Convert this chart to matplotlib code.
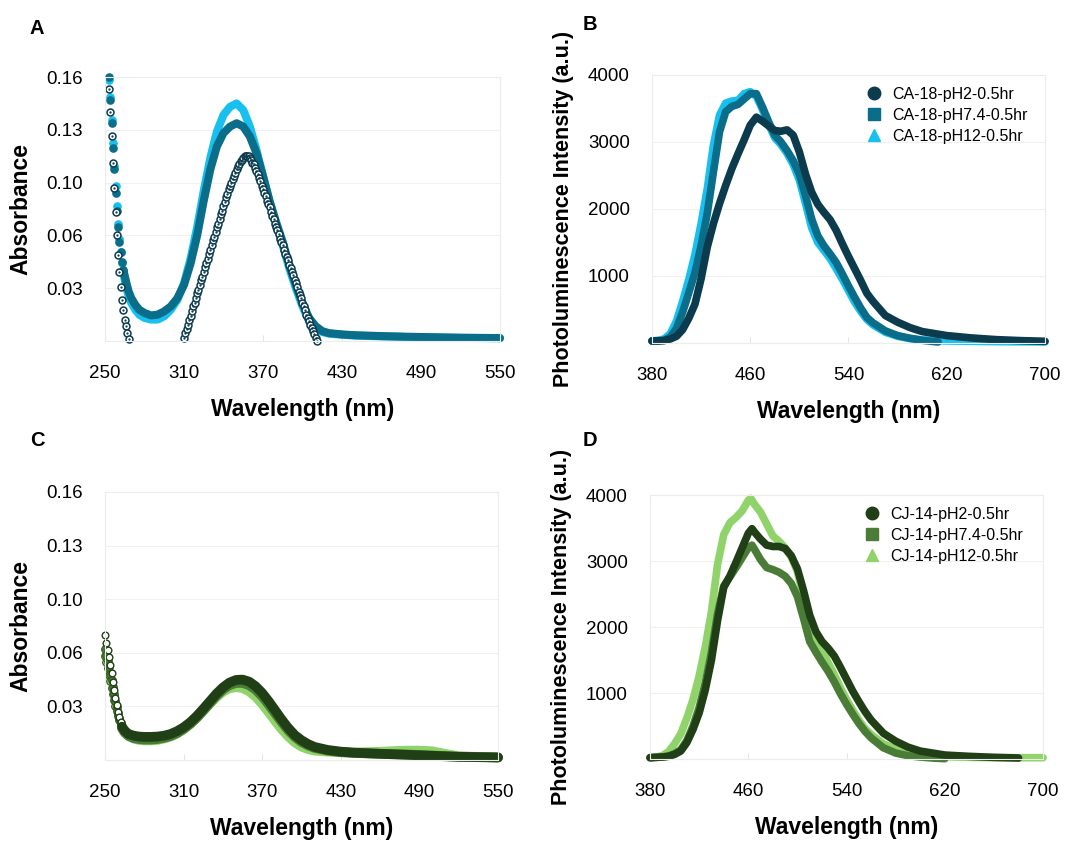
import matplotlib
matplotlib.use("Agg")
import matplotlib.pyplot as plt
from matplotlib.lines import Line2D

plt.rcParams['font.family'] = ['Liberation Sans', 'DejaVu Sans']

# ---------------- data ----------------
# panel A - UV-vis absorbance, CA-18
a_wl_pH2 = [253, 254, 255, 256, 257, 258, 259, 260, 261, 262, 263, 264, 265, 266, 267, 268,
            310, 311, 312, 313, 314, 315, 316, 317, 318, 319, 320, 321, 322, 323, 324, 325,
            326, 327, 328, 329, 330, 331, 332, 333, 334, 335, 336, 337, 338, 339, 340, 341,
            342, 343, 344, 345, 346, 347, 348, 349, 350, 351, 352, 353, 354, 355, 356, 357,
            358, 359, 360, 361, 362, 363, 364, 365, 366, 367, 368, 369, 370, 371, 372, 373,
            374, 375, 376, 377, 378, 379, 380, 381, 382, 383, 384, 385, 386, 387, 388, 389,
            390, 391, 392, 393, 394, 395, 396, 397, 398, 399, 400, 401, 402, 403, 404, 405,
            406, 407, 408, 409, 410, 411]
a_abs_pH2 = [0.153, 0.139, 0.124, 0.108, 0.093, 0.078, 0.064, 0.052, 0.042, 0.033, 0.025, 0.019,
             0.013, 0.009, 0.005, 0.001,
             0.002, 0.005, 0.007, 0.010, 0.013, 0.015, 0.018, 0.021, 0.023, 0.026, 0.029, 0.031,
             0.034, 0.037, 0.039, 0.042, 0.045, 0.047, 0.050, 0.053, 0.055, 0.058, 0.061, 0.063,
             0.066, 0.069, 0.071, 0.074, 0.077, 0.079, 0.082, 0.084, 0.087, 0.089, 0.092, 0.094,
             0.096, 0.098, 0.100, 0.102, 0.104, 0.106, 0.107, 0.109, 0.110, 0.111, 0.112, 0.112,
             0.112, 0.112, 0.111, 0.110, 0.108, 0.107, 0.105, 0.103, 0.101, 0.099, 0.097, 0.094,
             0.092, 0.090, 0.088, 0.085, 0.083, 0.081, 0.078, 0.076, 0.074, 0.071, 0.069, 0.067,
             0.065, 0.062, 0.060, 0.058, 0.055, 0.053, 0.051, 0.049, 0.046, 0.044, 0.042, 0.040,
             0.037, 0.035, 0.033, 0.030, 0.028, 0.026, 0.023, 0.021, 0.019, 0.016, 0.014, 0.012,
             0.010, 0.008, 0.006, 0.004, 0.002, 0.000]
a_wl = [253, 254, 255, 256, 257, 258, 259, 260, 261, 262, 263, 264, 266, 268, 270, 273, 276,
        280, 285, 290, 295, 300, 305, 310, 315, 320, 325, 330, 335, 340, 345, 350, 355, 360,
        365, 370, 375, 380, 385, 390, 395, 400, 405, 410, 415, 420, 430, 440, 460, 480, 500,
        520, 550]
a_abs_pH74 = [0.160, 0.146, 0.132, 0.117, 0.104, 0.090, 0.079, 0.069, 0.060, 0.054, 0.048, 0.043,
              0.036, 0.030, 0.026, 0.022, 0.019, 0.017, 0.0155, 0.016, 0.018, 0.021, 0.026, 0.034,
              0.047, 0.064, 0.085, 0.104, 0.118, 0.126, 0.130, 0.132, 0.130, 0.124, 0.114, 0.100,
              0.085, 0.072, 0.060, 0.046, 0.034, 0.023, 0.014, 0.009, 0.006, 0.0048, 0.004,
              0.0035, 0.003, 0.0026, 0.0023, 0.002, 0.0018]
a_abs_pH12 = [0.158, 0.148, 0.134, 0.120, 0.106, 0.094, 0.082, 0.071, 0.062, 0.054, 0.047, 0.041,
              0.033, 0.027, 0.023, 0.019, 0.016, 0.014, 0.013, 0.013, 0.015, 0.019, 0.025, 0.035,
              0.050, 0.069, 0.091, 0.111, 0.127, 0.137, 0.142, 0.144, 0.140, 0.130, 0.116, 0.100,
              0.084, 0.070, 0.058, 0.044, 0.032, 0.021, 0.012, 0.008, 0.0055, 0.0045, 0.0038,
              0.0033, 0.0028, 0.0024, 0.0021, 0.0019, 0.0017]

# panel C - UV-vis absorbance, CJ-14
c_wl = [250, 251, 252, 253, 254, 255, 256, 257, 258, 259, 260, 261, 262, 263, 265, 268, 272,
        276, 280, 285, 290, 295, 300, 305, 310, 315, 320, 325, 330, 335, 340, 345, 350, 355,
        360, 365, 370, 375, 380, 385, 390, 395, 400, 405, 410, 420, 430, 440, 460, 470, 480,
        490, 500, 510, 520, 550]
c_abs_pH2 = [0.0746, 0.0700, 0.0657, 0.0613, 0.0567, 0.0517, 0.0468, 0.0418, 0.0368, 0.0328,
             0.0289, 0.0259, 0.0229, 0.0199, 0.0175, 0.0155, 0.0145, 0.0140, 0.0138, 0.0138,
             0.0140, 0.0145, 0.0155, 0.0172, 0.0195, 0.0225, 0.0262, 0.0305, 0.0350, 0.0395,
             0.0433, 0.0462, 0.0478, 0.0480, 0.0468, 0.0440, 0.0400, 0.0350, 0.0295, 0.0240,
             0.0190, 0.0148, 0.0118, 0.0095, 0.0078, 0.0060, 0.0050, 0.0044, 0.0037, 0.0034,
             0.0031, 0.0028, 0.0025, 0.0022, 0.0019, 0.0015]
c_abs_pH74 = [0.0660, 0.0625, 0.0590, 0.0555, 0.0515, 0.0475, 0.0435, 0.0395, 0.0355, 0.0315,
              0.0280, 0.0250, 0.0220, 0.0190, 0.0165, 0.0143, 0.0130, 0.0125, 0.0122, 0.0122,
              0.0125, 0.0132, 0.0143, 0.0160, 0.0185, 0.0215, 0.0252, 0.0295, 0.0340, 0.0383,
              0.0420, 0.0447, 0.0460, 0.0460, 0.0447, 0.0420, 0.0380, 0.0330, 0.0277, 0.0225,
              0.0176, 0.0137, 0.0107, 0.0087, 0.0072, 0.0056, 0.0047, 0.0042, 0.0037, 0.0035,
              0.0033, 0.0030, 0.0027, 0.0023, 0.0020, 0.0016]
c_abs_pH12 = [0.0620, 0.0585, 0.0550, 0.0510, 0.0470, 0.0430, 0.0395, 0.0360, 0.0325, 0.0295,
              0.0265, 0.0240, 0.0215, 0.0190, 0.0165, 0.0145, 0.0128, 0.0120, 0.0117, 0.0117,
              0.0120, 0.0128, 0.0140, 0.0158, 0.0183, 0.0215, 0.0252, 0.0293, 0.0335, 0.0375,
              0.0408, 0.0428, 0.0435, 0.0430, 0.0410, 0.0378, 0.0335, 0.0285, 0.0233, 0.0183,
              0.0140, 0.0105, 0.0080, 0.0065, 0.0056, 0.0050, 0.0046, 0.0045, 0.0049, 0.0053,
              0.0056, 0.0056, 0.0052, 0.0036, 0.0022, 0.0015]

# panel B - photoluminescence, CA-18
b_wl_pH2 = [380, 385, 390, 395, 400, 405, 410, 415, 420, 425, 430, 435, 440, 445, 450, 455, 460,
            465, 470, 475, 480, 485, 490, 495, 500, 505, 510, 515, 520, 525, 530, 535, 540, 545,
            550, 555, 560, 570, 580, 590, 600, 620, 640, 660, 680, 700]
b_pl_pH2 = [30, 30, 35, 60, 100, 200, 370, 580, 960, 1430, 1780, 2080, 2350, 2600, 2820, 3030,
            3250, 3370, 3310, 3240, 3170, 3160, 3180, 3100, 2850, 2520, 2250, 2070, 1950, 1840,
            1680, 1480, 1290, 1110, 930, 740, 620, 410, 310, 230, 170, 110, 75, 50, 35, 25]
b_wl_pH74 = [380, 385, 390, 395, 400, 405, 410, 415, 420, 425, 430, 435, 440, 445, 450, 455, 460,
             465, 470, 475, 480, 485, 490, 495, 500, 505, 510, 515, 520, 525, 530, 535, 540, 545,
             550, 555, 560, 570, 580, 590, 600, 610, 613]
b_pl_pH74 = [30, 30, 40, 90, 220, 460, 750, 1050, 1450, 1930, 2550, 3150, 3450, 3530, 3560, 3640,
             3720, 3720, 3520, 3300, 3100, 3000, 2870, 2720, 2520, 2200, 1850, 1600, 1450, 1330,
             1200, 1030, 850, 680, 520, 380, 300, 180, 110, 70, 40, 20, 15]
b_wl_pH12 = [380, 385, 390, 395, 400, 405, 410, 415, 420, 425, 430, 435, 440, 445, 450, 455, 460,
             465, 470, 475, 480, 485, 490, 495, 500, 505, 510, 515, 520, 525, 530, 535, 540, 545,
             550, 555, 560, 570, 580, 590, 600, 620, 640, 660, 680, 700]
b_pl_pH12 = [30, 40, 60, 140, 330, 620, 950, 1320, 1780, 2300, 2950, 3400, 3580, 3610, 3620, 3720,
             3750, 3680, 3480, 3260, 3060, 2960, 2830, 2660, 2430, 2080, 1720, 1500, 1380, 1260,
             1110, 950, 780, 610, 470, 350, 270, 160, 100, 65, 45, 30, 25, 20, 18, 15]

# panel D - photoluminescence, CJ-14
d_wl_pH2 = [380, 385, 390, 395, 400, 405, 410, 415, 420, 425, 430, 435, 440, 445, 450, 455, 460,
            463, 465, 470, 475, 480, 485, 490, 495, 500, 505, 510, 515, 520, 525, 530, 535, 540,
            545, 550, 555, 560, 570, 580, 590, 600, 620, 640, 660, 680]
d_pl_pH2 = [20, 25, 30, 40, 70, 120, 250, 450, 700, 1050, 1500, 2100, 2600, 2770, 2980, 3200,
            3420, 3490, 3440, 3330, 3240, 3220, 3220, 3190, 3080, 2880, 2550, 2180, 1930, 1780,
            1680, 1560, 1390, 1210, 1030, 870, 720, 590, 390, 270, 180, 120, 60, 40, 25, 15]
d_wl_pH74 = [380, 385, 390, 395, 400, 405, 410, 415, 420, 425, 430, 435, 440, 445, 450, 455, 460,
             463, 465, 470, 475, 480, 485, 490, 495, 500, 505, 510, 515, 520, 525, 530, 535, 540,
             545, 550, 555, 560, 570, 580, 590, 600, 610, 620]
d_pl_pH74 = [20, 25, 30, 45, 80, 140, 280, 500, 780, 1150, 1620, 2200, 2620, 2760, 2900, 3050,
             3200, 3240, 3180, 3020, 2900, 2870, 2830, 2770, 2660, 2460, 2130, 1780, 1620, 1470,
             1330, 1170, 990, 830, 680, 540, 420, 320, 170, 90, 50, 30, 15, 5]
d_wl_pH12 = [380, 385, 390, 395, 400, 405, 410, 415, 420, 425, 430, 435, 440, 445, 450, 455, 460,
             462, 465, 470, 475, 480, 485, 490, 495, 500, 505, 510, 515, 520, 525, 530, 535, 540,
             545, 550, 555, 560, 570, 580, 590, 600, 620, 640, 660, 680, 700]
d_pl_pH12 = [20, 30, 50, 110, 230, 380, 620, 900, 1260, 1700, 2230, 2950, 3400, 3580, 3660, 3760,
             3920, 3950, 3860, 3740, 3560, 3380, 3300, 3200, 3060, 2840, 2450, 2050, 1830, 1660,
             1460, 1280, 1080, 900, 740, 590, 460, 370, 230, 150, 100, 70, 35, 25, 20, 20, 20]

abs_ticks = [0.032, 0.064, 0.096, 0.128, 0.16]
abs_ticklabels = ['0.03', '0.06', '0.10', '0.13', '0.16']
abs_xticks = [250, 310, 370, 430, 490, 550]
pl_ticks = [1000, 2000, 3000, 4000]
pl_xticks = [380, 460, 540, 620, 700]

labels_CA = ['CA-18-pH2-0.5hr', 'CA-18-pH7.4-0.5hr', 'CA-18-pH12-0.5hr']
labels_CJ = ['CJ-14-pH2-0.5hr', 'CJ-14-pH7.4-0.5hr', 'CJ-14-pH12-0.5hr']

blue_cols = ['#0c3b4d', '#0a6e8a', '#17c0ef']
green_cols = ['#213f17', '#4b7c37', '#8fd36a']

# ---------------- figure ----------------
fig = plt.figure(figsize=(10.78, 8.41), dpi=100)
axA = fig.add_axes([0.0974, 0.5945, 0.3664, 0.3139])
axB = fig.add_axes([0.6048, 0.5922, 0.3646, 0.3187])
axC = fig.add_axes([0.0974, 0.0963, 0.3646, 0.3187])
axD = fig.add_axes([0.6030, 0.0975, 0.3646, 0.3139])


def style_axes(ax, xticks, yticks, yticklabels, xlim, ylim, ylabel, ylabsize, ylabpad):
    ax.set_xlim(*xlim)
    ax.set_ylim(*ylim)
    ax.set_xticks(xticks)
    ax.set_yticks(yticks)
    ax.set_yticklabels(yticklabels)
    ax.tick_params(axis='y', length=0, labelsize=13.5, pad=16)
    ax.tick_params(axis='x', direction='in', length=4, color='#e4e4e4',
                   labelsize=13.5, pad=17)
    for s in ax.spines.values():
        s.set_color('#ececec')
        s.set_linewidth(0.8)
    ax.grid(axis='y', color='#f0f0f0', lw=0.8)
    ax.set_axisbelow(True)
    ax.set_xlabel('Wavelength (nm)', fontsize=16.5, fontweight='bold', labelpad=12)
    ax.set_ylabel(ylabel, fontsize=ylabsize, fontweight='bold', labelpad=ylabpad)


# A
n_left = 12
for y, c in [(a_abs_pH12, blue_cols[2]), (a_abs_pH74, blue_cols[1])]:
    axA.plot(a_wl[:n_left], y[:n_left], 'o', ms=5.2, color=c, mec=c, clip_on=False)
    axA.plot(a_wl[n_left - 1:], y[n_left - 1:], '-', lw=5.8, color=c,
             solid_capstyle='round', solid_joinstyle='round', clip_on=False)
axA.plot(a_wl_pH2, a_abs_pH2, 'o', ms=5.0, mfc='white', mec=blue_cols[0], mew=1.1,
         clip_on=False)
axA.plot(a_wl_pH2, a_abs_pH2, '.', ms=1.3, color=blue_cols[0], clip_on=False)
style_axes(axA, abs_xticks, abs_ticks, abs_ticklabels, (250, 550), (0, 0.16),
           'Absorbance', 16.5, 10)

# C
n_left_c = 14
for y, c in [(c_abs_pH12, green_cols[2]), (c_abs_pH74, green_cols[1])]:
    axC.plot(c_wl[:n_left_c], y[:n_left_c], 'o', ms=5.5, color=c, mec='#2f5a22', mew=0.8,
             clip_on=False)
    axC.plot(c_wl[n_left_c - 1:], y[n_left_c - 1:], '-', lw=7, color=c,
             solid_capstyle='round', solid_joinstyle='round', clip_on=False)
axC.plot(c_wl[:n_left_c], c_abs_pH2[:n_left_c], 'o', ms=4.8, mfc='white', mec=green_cols[0],
         mew=1.0, clip_on=False)
axC.plot(c_wl[n_left_c - 1:], c_abs_pH2[n_left_c - 1:], '-', lw=7, color=green_cols[0],
         solid_capstyle='round', solid_joinstyle='round', clip_on=False)
style_axes(axC, abs_xticks, abs_ticks, abs_ticklabels, (250, 550), (0, 0.16),
           'Absorbance', 16.5, 10)

# B
for x, y, c in [(b_wl_pH12, b_pl_pH12, blue_cols[2]), (b_wl_pH74, b_pl_pH74, blue_cols[1]),
                (b_wl_pH2, b_pl_pH2, blue_cols[0])]:
    axB.plot(x, y, '-', lw=5.5, color=c, solid_capstyle='round', solid_joinstyle='round',
             clip_on=False)
style_axes(axB, pl_xticks, pl_ticks, [str(t) for t in pl_ticks], (380, 700), (0, 4000),
           'Photoluminescence Intensity (a.u.)', 15.5, 10)

# D
for x, y, c in [(d_wl_pH12, d_pl_pH12, green_cols[2]), (d_wl_pH74, d_pl_pH74, green_cols[1]),
                (d_wl_pH2, d_pl_pH2, green_cols[0])]:
    axD.plot(x, y, '-', lw=5.5, color=c, solid_capstyle='round', solid_joinstyle='round',
             clip_on=False)
style_axes(axD, pl_xticks, pl_ticks, [str(t) for t in pl_ticks], (380, 700), (0, 4000),
           'Photoluminescence Intensity (a.u.)', 15.5, 10)


def add_legend(ax, labels, cols):
    handles = [Line2D([], [], ls='none', marker=m, ms=9, color=c, mec=c)
               for m, c in zip(['o', 's', '^'], cols)]
    ax.legend(handles, labels, loc='upper left', bbox_to_anchor=(0.525, 0.98), frameon=False,
              fontsize=11.5, handletextpad=0.5, labelspacing=0.38, borderaxespad=0,
              handlelength=1.2)


add_legend(axB, labels_CA, blue_cols)
add_legend(axD, labels_CJ, green_cols)

for lab, x, y in [('A', 37, 28), ('B', 590, 25), ('C', 37, 440), ('D', 590, 440)]:
    fig.text(x / 1078, 1 - y / 841, lab, fontsize=14.5, fontweight='bold',
             ha='center', va='center')

fig.savefig('out.png', dpi=100)
